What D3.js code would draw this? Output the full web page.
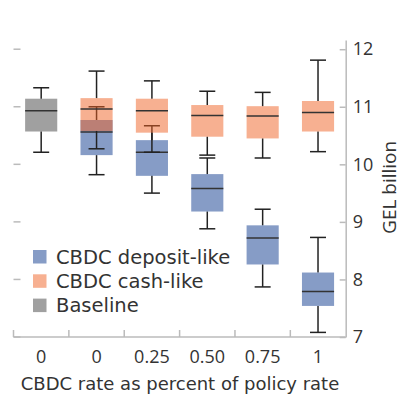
<!DOCTYPE html>
<html>
<head>
<meta charset="utf-8">
<script src="https://cdn.jsdelivr.net/npm/d3@7"></script>
<style>
  body { margin: 0; background: #fff; }
  text { font-family: "Open Sans", Lato, sans-serif; fill: #333; }
  text.wide { font-family: "DejaVu Sans", "Open Sans", sans-serif; }
</style>
</head>
<body>
<svg></svg>
<script>
const width = 411;
const height = 400;

// x categories (CBDC rate as share of policy rate)
const categories = ['0', '0', '0.25', '0.50', '0.75', '1'];

// box stats per category: [lower whisker, q1, median, q3, upper whisker]
const baseline = [[10.21, 10.57, 10.93, 11.14, 11.33], null, null, null, null, null];
const depositLike = [null,
  [9.82, 10.16, 10.56, 10.77, 11.0],
  [9.50, 9.80, 10.21, 10.42, 10.67],
  [8.88, 9.18, 9.58, 9.83, 10.11],
  [7.87, 8.26, 8.72, 8.94, 9.22],
  [7.08, 7.54, 7.79, 8.12, 8.73]];
const cashLike = [null,
  [10.27, 10.58, 10.96, 11.15, 11.62],
  [10.21, 10.55, 10.93, 11.14, 11.45],
  [10.16, 10.48, 10.85, 11.03, 11.27],
  [10.11, 10.45, 10.84, 11.01, 11.25],
  [10.22, 10.57, 10.90, 11.10, 11.81]];

const yTicks = [7, 8, 9, 10, 11, 12];

const series = [
  { name: 'Baseline', color: 'rgb(65,65,65)', values: baseline },
  { name: 'CBDC deposit-like', color: 'rgb(13,57,141)', values: depositLike },
  { name: 'CBDC cash-like', color: 'rgb(239,97,35)', values: cashLike }
];

const svg = d3.select('svg')
    .attr('width', width)
    .attr('height', height);

const x = d3.scaleBand()
    .domain(d3.range(categories.length))
    .range([13.5, 345.7]);

const y = d3.scaleLinear()
    .domain([7, 12.16])
    .range([337, 40]);

const boxW = x.bandwidth() * 0.58;
const capW = 16;

// left tick stubs (no labels)
svg.append('g')
  .selectAll('line')
  .data(yTicks)
  .enter().append('line')
    .attr('x1', 13.5).attr('x2', 20.5)
    .attr('y1', d => y(d)).attr('y2', d => y(d))
    .attr('stroke', '#bbb')
    .attr('stroke-width', 1.5);

// right y axis
const yAxis = svg.append('g')
    .attr('transform', `translate(${x.range()[1]},0)`)
    .call(d3.axisRight(y).tickValues(yTicks).tickSize(0).tickPadding(7).tickFormat(d3.format('d')));
yAxis.select('.domain').attr('stroke', '#bbb').attr('stroke-width', 1.5);
yAxis.selectAll('text').style('font-size', '18px').attr('fill', '#333');
yAxis.selectAll('.tick').append('line')
    .attr('x1', -6).attr('x2', 0)
    .attr('stroke', '#bbb')
    .attr('stroke-width', 1.5);

svg.append('text')
    .attr('transform', `translate(396,${y(9.6)}) rotate(-90)`)
    .attr('text-anchor', 'middle')
    .style('font-size', '19px')
    .text('GEL billion');

// x axis: bottom line with ticks at band edges
const xg = svg.append('g');
xg.append('line')
    .attr('x1', x.range()[0]).attr('x2', x.range()[1])
    .attr('y1', y(7)).attr('y2', y(7))
    .attr('stroke', '#bbb').attr('stroke-width', 1.5);
xg.selectAll('line.edge')
  .data(d3.range(categories.length))
  .enter().append('line')
    .attr('class', 'edge')
    .attr('x1', d => x(d)).attr('x2', d => x(d))
    .attr('y1', y(7)).attr('y2', y(7) - 7)
    .attr('stroke', '#bbb').attr('stroke-width', 1.5);
xg.selectAll('text')
  .data(categories)
  .enter().append('text')
    .attr('x', (d, i) => x(i) + x.bandwidth() / 2)
    .attr('y', 363)
    .attr('text-anchor', 'middle')
    .style('font-size', '18px')
    .text(d => d);

svg.append('text')
    .attr('class', 'wide')
    .attr('x', 180)
    .attr('y', 390)
    .attr('text-anchor', 'middle')
    .style('font-size', '18px')
    .text('CBDC rate as percent of policy rate');

// boxes, one series after another so later ones overlay earlier ones
series.forEach(s => {
  const data = s.values.map((v, i) => ({ i, v })).filter(d => d.v);
  const g = svg.append('g');
  const cx = d => x(d.i) + x.bandwidth() / 2;

  g.selectAll('line.whisk-lo')
    .data(data).enter().append('line')
      .attr('x1', cx).attr('x2', cx)
      .attr('y1', d => y(d.v[1])).attr('y2', d => y(d.v[0]))
      .attr('stroke', '#222').attr('stroke-width', 1.5);
  g.selectAll('line.whisk-hi')
    .data(data).enter().append('line')
      .attr('x1', cx).attr('x2', cx)
      .attr('y1', d => y(d.v[3])).attr('y2', d => y(d.v[4]))
      .attr('stroke', '#222').attr('stroke-width', 1.5);
  [0, 4].forEach(k => {
    g.selectAll(null)
      .data(data).enter().append('line')
        .attr('x1', d => cx(d) - capW / 2).attr('x2', d => cx(d) + capW / 2)
        .attr('y1', d => y(d.v[k])).attr('y2', d => y(d.v[k]))
        .attr('stroke', '#222').attr('stroke-width', 1.5);
  });

  g.selectAll('rect')
    .data(data).enter().append('rect')
      .attr('x', d => cx(d) - boxW / 2)
      .attr('width', boxW)
      .attr('y', d => y(d.v[3]))
      .attr('height', d => y(d.v[1]) - y(d.v[3]))
      .attr('fill', s.color)
      .attr('fill-opacity', 0.5);

  g.selectAll('line.median')
    .data(data).enter().append('line')
      .attr('x1', d => cx(d) - boxW / 2).attr('x2', d => cx(d) + boxW / 2)
      .attr('y1', d => y(d.v[2])).attr('y2', d => y(d.v[2]))
      .attr('stroke', '#333').attr('stroke-width', 1.5);
});

// legend
const legendOrder = [series[1], series[2], series[0]];
const legend = svg.append('g')
  .selectAll('g')
  .data(legendOrder)
  .enter().append('g')
    .attr('transform', (d, i) => `translate(33,${250 + i * 24.3})`);
legend.append('rect')
    .attr('width', 13.5).attr('height', 13.5)
    .attr('fill', d => d.color)
    .attr('fill-opacity', 0.5);
legend.append('text')
    .attr('class', 'wide')
    .attr('x', 23)
    .attr('y', 7)
    .attr('dy', '0.35em')
    .style('font-size', '19.5px')
    .text(d => d.name);
</script>
</body>
</html>
